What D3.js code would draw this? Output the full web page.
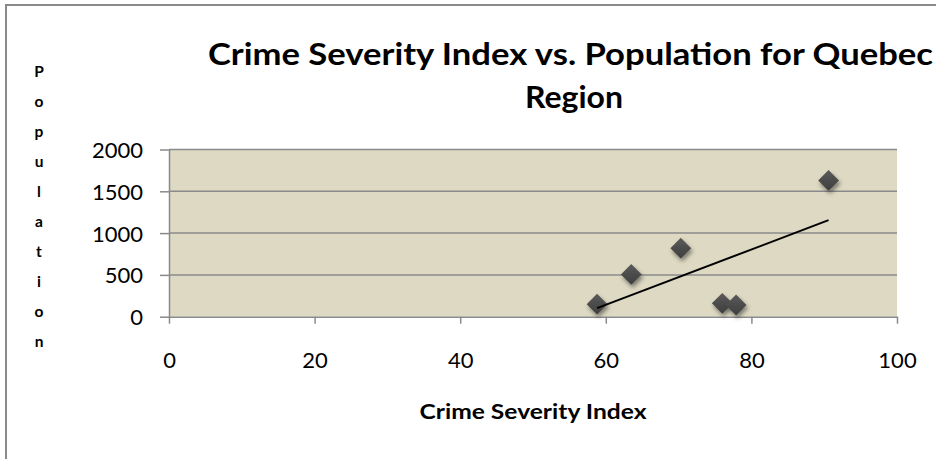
<!DOCTYPE html>
<html>
<head>
<meta charset="utf-8">
<script src="https://cdn.jsdelivr.net/npm/d3@7"></script>
<style>
  html, body { margin: 0; padding: 0; background: #fff; }
  svg { display: block; }
  text { font-family: Lato, "Open Sans", sans-serif; fill: #000; }
</style>
</head>
<body>
<svg id="chart" width="936" height="459"></svg>
<script>
// Crime Severity Index (x) and population (y) for each Quebec region
const crimeIndex = [58.8, 63.5, 70.3, 76.0, 77.9, 90.6];
const population = [150, 505, 820, 160, 140, 1630];

const xTicks = [0, 20, 40, 60, 80, 100];
const yTicks = [0, 500, 1000, 1500, 2000];

const titleLines = ["Crime Severity Index vs. Population for Quebec", "Region"];
const xTitle = "Crime Severity Index";
const yTitle = "Population";

const points = crimeIndex.map((v, i) => ({ x: v, y: population[i] }));

const svg = d3.select("#chart");

const plot = { left: 169, right: 897, top: 149.5, bottom: 316.7 };
const x = d3.scaleLinear().domain([0, 100]).range([plot.left, plot.right]);
const y = d3.scaleLinear().domain([0, 2000]).range([plot.bottom, plot.top]);

const gridColor = "#8a8a8a";

// marker shading and shadow
const defs = svg.append("defs");
const grad = defs.append("linearGradient").attr("id", "mk").attr("x1", 0).attr("y1", 0).attr("x2", 0).attr("y2", 1);
grad.append("stop").attr("offset", "0%").attr("stop-color", "#5a5a5a");
grad.append("stop").attr("offset", "100%").attr("stop-color", "#3e3e3e");
const shadow = defs.append("filter").attr("id", "shadow")
  .attr("x", "-50%").attr("y", "-50%").attr("width", "200%").attr("height", "200%");
shadow.append("feDropShadow").attr("dx", 1.5).attr("dy", 3).attr("stdDeviation", 2)
  .attr("flood-color", "#000").attr("flood-opacity", 0.45);

// chart frame
svg.append("rect").attr("x", 6).attr("y", 5).attr("width", 1000).attr("height", 1000)
  .attr("fill", "#fff").attr("stroke", gridColor).attr("stroke-width", 2);

// plot area background
svg.append("rect")
  .attr("x", plot.left).attr("y", plot.top)
  .attr("width", plot.right - plot.left).attr("height", plot.bottom - plot.top)
  .attr("fill", "#ddd9c3");

// horizontal gridlines
svg.append("g").selectAll("line").data(yTicks.filter(d => d > 0)).join("line")
  .attr("x1", plot.left).attr("x2", plot.right)
  .attr("y1", d => y(d)).attr("y2", d => y(d))
  .attr("stroke", gridColor).attr("stroke-width", 1.5);

// y axis
const yAxis = svg.append("g").attr("transform", `translate(${plot.left},0)`)
  .call(d3.axisLeft(y).tickValues(yTicks).tickFormat(d3.format("d"))
    .tickSize(9).tickSizeOuter(0).tickPadding(17));
yAxis.selectAll("line").attr("stroke", gridColor).attr("stroke-width", 1.5);
yAxis.select(".domain").attr("stroke", gridColor).attr("stroke-width", 1.5);
yAxis.selectAll("text").attr("font-size", 22).attr("font-family", "Lato, sans-serif")
  .attr("fill", "#000").attr("dy", "0.36em");

// x axis
const xAxis = svg.append("g").attr("transform", `translate(0,${plot.bottom})`)
  .call(d3.axisBottom(x).tickValues(xTicks).tickFormat(d3.format("d"))
    .tickSize(7).tickSizeOuter(0));
xAxis.selectAll("line").attr("stroke", gridColor).attr("stroke-width", 1.5);
xAxis.select(".domain").attr("stroke", gridColor).attr("stroke-width", 1.5);
xAxis.selectAll("text").attr("font-size", 22).attr("font-family", "Lato, sans-serif")
  .attr("fill", "#000").attr("dy", null).attr("y", 51);

// linear trend line (least squares) over the data's x range
const mx = d3.mean(crimeIndex), my = d3.mean(population);
const slope = d3.sum(points, p => (p.x - mx) * (p.y - my)) / d3.sum(points, p => (p.x - mx) ** 2);
const intercept = my - slope * mx;
const [xmin, xmax] = d3.extent(crimeIndex);

// diamond markers
svg.append("g").selectAll("path").data(points).join("path")
  .attr("d", d3.symbol().type(d3.symbolDiamond2).size(275))
  .attr("transform", d => `translate(${x(d.x)},${y(d.y)})`)
  .attr("fill", "url(#mk)")
  .attr("filter", "url(#shadow)");

svg.append("line")
  .attr("x1", x(xmin)).attr("y1", y(intercept + slope * xmin))
  .attr("x2", x(xmax)).attr("y2", y(intercept + slope * xmax))
  .attr("stroke", "#000").attr("stroke-width", 2);

// chart title
svg.append("text").attr("x", 208).attr("y", 65)
  .attr("font-size", 30).attr("font-weight", 700)
  .attr("textLength", 725).attr("lengthAdjust", "spacingAndGlyphs")
  .text(titleLines[0]);
svg.append("text").attr("x", 525).attr("y", 108)
  .attr("font-size", 30).attr("font-weight", 700)
  .attr("textLength", 98).attr("lengthAdjust", "spacingAndGlyphs")
  .text(titleLines[1]);

// x axis title
svg.append("text").attr("x", (plot.left + plot.right) / 2).attr("y", 419)
  .attr("text-anchor", "middle").attr("font-size", 21).attr("font-weight", 700)
  .attr("textLength", 227).attr("lengthAdjust", "spacingAndGlyphs")
  .text(xTitle);

// y axis title, letters stacked vertically
svg.append("g").selectAll("text").data(yTitle.split("")).join("text")
  .attr("x", 39).attr("y", (d, i) => 76.7 + 30 * i)
  .attr("text-anchor", "middle").attr("font-size", 15.5).attr("font-weight", 700)
  .text(d => d);
</script>
</body>
</html>
